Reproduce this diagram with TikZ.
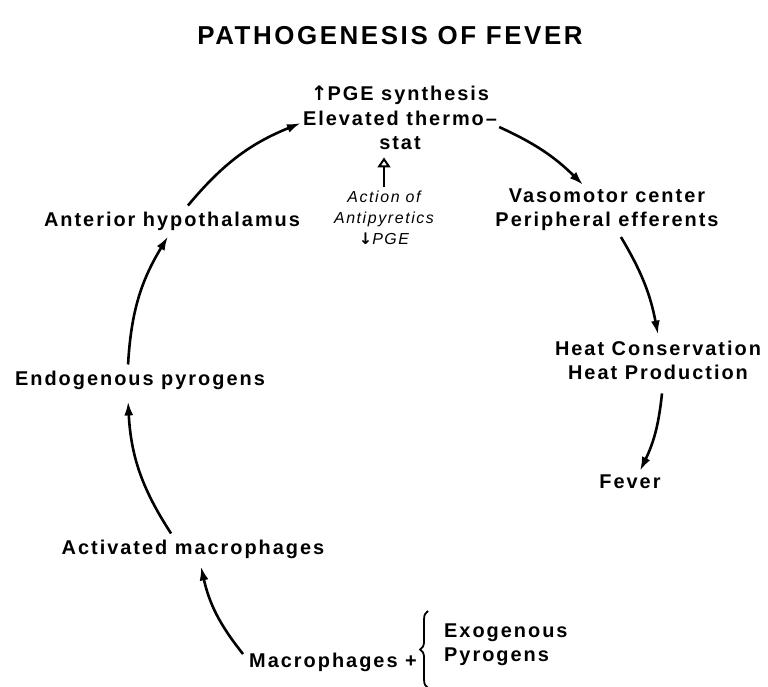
\documentclass[tikz,border=0pt]{standalone}
\usepackage{fontspec}
\setmainfont{Liberation Sans}
\newfontfamily\lblfont[LetterSpace=10]{Liberation Sans}
\newfontfamily\symfont{DejaVu Sans}
\usepackage{tikz}
\usetikzlibrary{positioning,arrows.meta,decorations.pathreplacing}
\newcommand\incr{{\symfont\bfseries ↑}}
\newcommand\decr{{\symfont\bfseries ↓}}

\begin{document}
\begin{tikzpicture}[x=1bp,y=1bp,
    lbl/.style={font=\lblfont\bfseries\fontsize{20}{24}\selectfont,align=center,inner sep=2pt},
    note/.style={font=\lblfont\itshape\fontsize{16}{21}\selectfont,align=center,inner sep=2pt},
    arr/.style={line width=2.6pt,-{Latex[length=14pt,width=9pt]}},
    openarr/.style={line width=2pt,-{Triangle[open,length=10pt,width=13pt,line width=2pt]}},
    brc/.style={decorate,decoration={brace,amplitude=8pt},line width=1.8pt}]
    \useasboundingbox (0,0) rectangle (768,-687);
    \node[font=\lblfont\bfseries\fontsize{26}{30}\selectfont] (title) at (390,-36) {PATHOGENESIS OF FEVER};
    % cycle
    \node[lbl] (thermo) at (400,-130) {Elevated thermo–\\stat};
    \node[lbl,above=2pt of thermo] (pge) {\incr PGE synthesis};
    \node[note] (antip) at (384,-218) {Action of\\Antipyretics\\\decr PGE};
    \node[lbl] (vaso) at (607,-210) {Vasomotor center\\Peripheral efferents};
    \node[lbl] (heat) at (658,-360) {Heat Conservation\\Heat Production};
    \node[lbl] (fever) at (630,-482) {Fever};
    \node[lbl] (ant) at (172,-221) {Anterior hypothalamus};
    \node[lbl] (endog) at (140,-380) {Endogenous pyrogens};
    \node[lbl] (act) at (193,-549) {Activated macrophages};
    \node[lbl] (macro) at (333,-662) {Macrophages +};
    \node[lbl,align=left,anchor=west] (exo) at (442,-645) {Exogenous\\Pyrogens};
    \draw[brc] ([xshift=-14pt,yshift=-20pt]exo.south west) -- ([xshift=-14pt,yshift=11pt]exo.north west);
    % arrows
    \draw[arr] ([xshift=16pt,yshift=4pt]ant.north) to[bend left=14] ([yshift=7pt]thermo.west);
    \draw[arr] ([yshift=3pt]thermo.east) to[bend left=10] ([xshift=-24pt,yshift=2pt]vaso.north);
    \draw[arr] ([xshift=14pt,yshift=-4pt]vaso.south) to[bend left=10] ([yshift=4pt]heat.north);
    \draw[arr] ([xshift=4pt,yshift=-12pt]heat.south) to[bend left=10] ([xshift=10pt,yshift=2pt]fever.north);
    \draw[arr] ([xshift=-4pt,yshift=8pt]macro.west) to[bend left=13] ([xshift=8pt,yshift=-6pt]act.south);
    \draw[arr] ([xshift=-22pt,yshift=4pt]act.north) to[bend left=15] ([xshift=-12pt,yshift=-10pt]endog.south);
    \draw[arr] ([xshift=-12pt,yshift=4pt]endog.north) to[bend left=14] ([xshift=-4pt,yshift=-4pt]ant.south);
    \draw[openarr] ([yshift=2pt]antip.north) -- ([yshift=-6pt]antip.north |- thermo.south);
\end{tikzpicture}
\end{document}
